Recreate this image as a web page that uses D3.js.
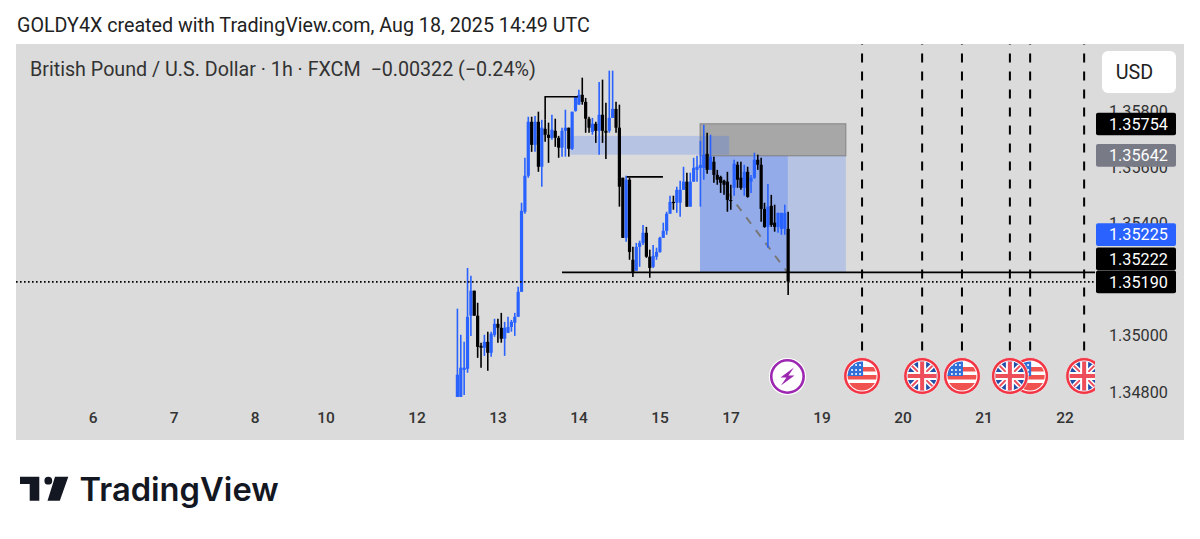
<!DOCTYPE html>
<html>
<head>
<meta charset="utf-8">
<script src="https://cdn.jsdelivr.net/npm/d3@7"></script>
<style>
  html, body { margin: 0; padding: 0; background: #fff; }
  svg { display: block; }
  text { font-family: Roboto, sans-serif; }
</style>
</head>
<body>
<svg id="chart" width="1200" height="539"></svg>
<script>
// hourly candles
const opens = [1.34779,1.34779,1.34875,1.34879,1.35068,1.35157,1.35068,1.34961,1.34954,1.34975,1.34936,1.35000,1.35039,1.35025,1.34986,1.35007,1.35028,1.35043,1.35064,1.35153,1.35438,1.35566,1.35758,1.35676,1.35758,1.35598,1.35733,1.35712,1.35701,1.35726,1.35701,1.35666,1.35726,1.35737,1.35662,1.35797,1.35819,1.35854,1.35829,1.35769,1.35722,1.35751,1.35726,1.35783,1.35726,1.35726,1.35772,1.35804,1.35737,1.35559,1.35345,1.35552,1.35267,1.35228,1.35313,1.35327,1.35363,1.35278,1.35242,1.35278,1.35295,1.35345,1.35370,1.35431,1.35473,1.35470,1.35470,1.35516,1.35545,1.35456,1.35545,1.35587,1.35594,1.35594,1.35644,1.35587,1.35616,1.35569,1.35562,1.35548,1.35545,1.35480,1.35523,1.35605,1.35559,1.35523,1.35580,1.35545,1.35559,1.35623,1.35605,1.35448,1.35384,1.35459,1.35399,1.35384,1.35377,1.35377,1.35377];
const highs = [1.35093,1.35000,1.34975,1.35238,1.35210,1.35157,1.35114,1.34972,1.35000,1.35011,1.35011,1.35057,1.35057,1.35078,1.35046,1.35064,1.35053,1.35078,1.35171,1.35470,1.35630,1.35776,1.35776,1.35779,1.35794,1.35765,1.35765,1.35755,1.35783,1.35769,1.35708,1.35737,1.35801,1.35737,1.35794,1.35847,1.35872,1.35915,1.35843,1.35776,1.35772,1.35758,1.35900,1.35908,1.35826,1.35940,1.35940,1.35829,1.35819,1.35559,1.35566,1.35559,1.35313,1.35327,1.35335,1.35391,1.35384,1.35303,1.35320,1.35310,1.35349,1.35399,1.35438,1.35495,1.35495,1.35527,1.35548,1.35598,1.35577,1.35577,1.35630,1.35637,1.35690,1.35747,1.35719,1.35712,1.35634,1.35587,1.35566,1.35552,1.35580,1.35534,1.35623,1.35616,1.35616,1.35605,1.35598,1.35569,1.35648,1.35641,1.35630,1.35470,1.35537,1.35498,1.35463,1.35434,1.35434,1.35463,1.35438];
const lows = [1.34779,1.34779,1.34786,1.34865,1.34996,1.35068,1.34918,1.34883,1.34925,1.34872,1.34922,1.34993,1.34972,1.34972,1.34925,1.35007,1.35011,1.34996,1.35064,1.35153,1.35431,1.35559,1.35651,1.35651,1.35580,1.35527,1.35687,1.35612,1.35694,1.35669,1.35630,1.35634,1.35634,1.35634,1.35658,1.35794,1.35819,1.35819,1.35719,1.35719,1.35712,1.35683,1.35641,1.35683,1.35626,1.35719,1.35772,1.35719,1.35456,1.35345,1.35331,1.35267,1.35206,1.35228,1.35242,1.35320,1.35274,1.35203,1.35238,1.35267,1.35292,1.35345,1.35356,1.35431,1.35445,1.35434,1.35420,1.35516,1.35456,1.35456,1.35545,1.35545,1.35456,1.35552,1.35573,1.35587,1.35541,1.35534,1.35505,1.35498,1.35438,1.35445,1.35495,1.35523,1.35516,1.35495,1.35488,1.35505,1.35555,1.35587,1.35402,1.35381,1.35310,1.35384,1.35367,1.35363,1.35356,1.35356,1.35142];
const closes = [1.34858,1.34883,1.34883,1.35064,1.35157,1.35068,1.34957,1.34954,1.34975,1.34936,1.35004,1.35039,1.35025,1.34986,1.35025,1.35028,1.35046,1.35064,1.35153,1.35441,1.35566,1.35758,1.35676,1.35758,1.35598,1.35737,1.35712,1.35701,1.35730,1.35701,1.35666,1.35726,1.35737,1.35662,1.35794,1.35847,1.35854,1.35829,1.35769,1.35737,1.35751,1.35726,1.35783,1.35726,1.35719,1.35772,1.35804,1.35737,1.35527,1.35345,1.35552,1.35295,1.35224,1.35313,1.35327,1.35363,1.35278,1.35238,1.35281,1.35295,1.35345,1.35370,1.35431,1.35473,1.35470,1.35516,1.35516,1.35545,1.35456,1.35545,1.35594,1.35598,1.35605,1.35641,1.35587,1.35634,1.35569,1.35552,1.35541,1.35534,1.35480,1.35477,1.35609,1.35552,1.35523,1.35580,1.35491,1.35559,1.35623,1.35605,1.35448,1.35384,1.35456,1.35391,1.35384,1.35434,1.35434,1.35434,1.35190];

const dayBars = [-108,-84,-60,-39,-12,12,36,60,81,108,132,156,180];
const dayLabels = ['6','7','8','10','12','13','14','15','17','19','20','21','22'];
const priceTicks = [1.348,1.35,1.354,1.356,1.358];

// price tags on the right edge
const tagPrices = [1.35754,1.35642,1.35225,1.35222,1.35190];
const tagFills = ['#000','#787b86','#2962ff','#000','#000'];
const tagNudge = [1,1,-37,-13.5,0.5];

// economic events
const eventBars = [119.9,137.7,149.5,163.7,169.7,185.7];
const eventFlags = ['us','uk','us','uk','us','uk'];

// drawings on the chart: [bar from, bar to, price high, price low]
const bandZone = [33.4,80.5,1.35708,1.35641];
const stopZone = [71.9,115.1,1.35751,1.35637];
const targetZone = [71.9,115.1,1.35637,1.35224];
const filledZone = [71.9,97.9,1.35637,1.35224];
const bracketHigh = [[26,1.35765],[26,1.35847],[35.7,1.35847]];
const bracketLow = [[50.2,1.35562],[60.9,1.35562]];
const dropLine = [[79.9,1.35509],[97.7,1.35224]];
const supportPrice = 1.35222;
const supportFromBar = 31;
const lastPrice = 1.3519;

const BLUE = '#2962ff';
const svg = d3.select('#chart');
const paneRight = 1095;

const x = d3.scaleLinear().domain([0, 98]).range([457.4, 788.15]);
const y = d3.scaleLinear().domain([1.348, 1.358]).range([391, 110]);
const line = d3.line().x(d => x(d[0])).y(d => y(d[1]));

svg.append('text').attr('x', 17).attr('y', 32).attr('font-size', 19.7).attr('fill', '#222')
  .text('GOLDY4X created with TradingView.com, Aug 18, 2025 14:49 UTC');

svg.append('rect').attr('x', 16).attr('y', 44).attr('width', 1168).attr('height', 396).attr('fill', '#dbdbdb');

let defs = svg.append('defs');
defs.append('clipPath').attr('id', 'pane').append('rect')
  .attr('x', 16).attr('y', 44).attr('width', paneRight - 16).attr('height', 396);
defs.append('clipPath').attr('id', 'flagClip').append('circle').attr('r', 14.5);

svg.append('text').attr('x', 30).attr('y', 76).attr('font-size', 19.7).attr('fill', '#333')
  .attr('xml:space', 'preserve')
  .text('British Pound / U.S. Dollar · 1h · FXCM  −0.00322 (−0.24%)');

const pane = svg.append('g').attr('clip-path', 'url(#pane)');

function zone(z, fill) {
  return pane.append('rect')
    .attr('x', x(z[0])).attr('width', x(z[1]) - x(z[0]))
    .attr('y', y(z[2])).attr('height', y(z[3]) - y(z[2]))
    .attr('fill', fill);
}

zone(targetZone, 'rgba(41,98,255,0.2)');
zone(filledZone, 'rgba(41,98,255,0.25)');
zone(stopZone, 'rgba(90,90,90,0.4)').attr('stroke', 'rgba(110,110,110,0.7)').attr('stroke-width', 1);
zone(bandZone, 'rgba(41,98,255,0.2)');

pane.append('path').attr('d', line(dropLine)).attr('fill', 'none')
  .attr('stroke', '#777').attr('stroke-width', 2).attr('stroke-dasharray', '8,8');

// candles
const bars = d3.range(opens.length);
const colorOf = i => closes[i] >= opens[i] ? BLUE : '#000';

pane.append('g').selectAll('line').data(bars).join('line')
  .attr('x1', i => x(i)).attr('x2', i => x(i))
  .attr('y1', i => y(highs[i])).attr('y2', i => y(lows[i]))
  .attr('stroke', colorOf).attr('stroke-width', 1.6);

pane.append('g').selectAll('rect').data(bars).join('rect')
  .attr('x', i => x(i) - 1.6).attr('width', 3.2)
  .attr('y', i => y(Math.max(opens[i], closes[i])))
  .attr('height', i => Math.max(1.2, Math.abs(y(opens[i]) - y(closes[i]))))
  .attr('fill', colorOf);

pane.append('path').attr('d', line(bracketHigh)).attr('fill', 'none').attr('stroke', '#000').attr('stroke-width', 1.6);
pane.append('path').attr('d', line(bracketLow)).attr('fill', 'none').attr('stroke', '#000').attr('stroke-width', 1.6);

pane.append('line').attr('x1', x(supportFromBar)).attr('x2', paneRight)
  .attr('y1', y(supportPrice)).attr('y2', y(supportPrice))
  .attr('stroke', '#000').attr('stroke-width', 1.6);

pane.append('line').attr('x1', 16).attr('x2', paneRight)
  .attr('y1', y(lastPrice) + 0.5).attr('y2', y(lastPrice) + 0.5)
  .attr('stroke', '#000').attr('stroke-width', 1.6).attr('stroke-dasharray', '1.6,2.4');

// event lines
pane.append('g').selectAll('line').data(eventBars).join('line')
  .attr('x1', d => x(d)).attr('x2', d => x(d))
  .attr('y1', 35.5).attr('y2', 358)
  .attr('stroke', '#000').attr('stroke-width', 2).attr('stroke-dasharray', '9,9');

function drawUS(g) {
  g.append('rect').attr('x', -15).attr('y', -15).attr('width', 30).attr('height', 30).attr('fill', '#fff');
  [-9, -1, 7].forEach(v => {
    g.append('rect').attr('x', -15).attr('y', v).attr('width', 30).attr('height', 4.5).attr('fill', '#f0534f');
  });
  g.append('rect').attr('x', -15).attr('y', -15).attr('width', 16).attr('height', 15).attr('fill', '#2f6fd8');
  [-11, -6, -2].forEach(cy => {
    [-10, -6, -2].forEach(cx => {
      g.append('circle').attr('cx', cx).attr('cy', cy).attr('r', 1).attr('fill', '#fff');
    });
  });
  g.append('rect').attr('x', -15).attr('y', 11).attr('width', 30).attr('height', 5).attr('fill', '#f0534f');
}

function drawUK(g) {
  g.append('rect').attr('x', -15).attr('y', -15).attr('width', 30).attr('height', 30).attr('fill', '#1f4fa8');
  [[-15,-15,15,15],[-15,15,15,-15]].forEach(p => {
    g.append('line').attr('x1', p[0]).attr('y1', p[1]).attr('x2', p[2]).attr('y2', p[3]).attr('stroke', '#fff').attr('stroke-width', 5);
    g.append('line').attr('x1', p[0]).attr('y1', p[1]).attr('x2', p[2]).attr('y2', p[3]).attr('stroke', '#ee4d5a').attr('stroke-width', 1.8);
  });
  g.append('rect').attr('x', -15).attr('y', -4).attr('width', 30).attr('height', 8).attr('fill', '#fff');
  g.append('rect').attr('x', -4).attr('y', -15).attr('width', 8).attr('height', 30).attr('fill', '#fff');
  g.append('rect').attr('x', -15).attr('y', -2).attr('width', 30).attr('height', 4).attr('fill', '#ee4d5a');
  g.append('rect').attr('x', -2).attr('y', -15).attr('width', 4).attr('height', 30).attr('fill', '#ee4d5a');
}

// drawn from the right so the earlier flag sits on top
d3.range(eventBars.length - 1, -1, -1).forEach(i => {
  let g = pane.append('g').attr('transform', `translate(${x(eventBars[i])},376)`);
  g.append('circle').attr('r', 18.5).attr('fill', '#f23645').attr('stroke', '#e8e8e8').attr('stroke-width', 0.8);
  g.append('circle').attr('r', 15.5).attr('fill', '#fff');
  let inner = g.append('g').attr('clip-path', 'url(#flagClip)');
  if (eventFlags[i] === 'us') drawUS(inner); else drawUK(inner);
});

// lightning marker under the last bar
let bolt = pane.append('g').attr('transform', `translate(${x(98) - 0.7},376.5)`);
bolt.append('circle').attr('r', 18.6).attr('fill', '#fff');
bolt.append('circle').attr('r', 16.2).attr('fill', '#fff').attr('stroke', '#9c27b0').attr('stroke-width', 2.6);
bolt.append('path').attr('d', 'M6.5,-9 L-7,1 L-1,1 L-6.5,9 L7,-1 L1,-1 Z').attr('fill', '#9c27b0');

// axes
const xAxis = d3.axisBottom(x).tickValues(dayBars).tickSize(0).tickPadding(0)
  .tickFormat((d, i) => dayLabels[i]);
const xg = svg.append('g').attr('transform', 'translate(-0.3,412)').call(xAxis);
xg.select('.domain').remove();
xg.selectAll('text').style('font-family', 'Roboto').attr('font-size', 15.5).attr('font-weight', 500).attr('fill', '#333');

const yAxis = d3.axisRight(y).tickValues(priceTicks).tickSize(0).tickPadding(0)
  .tickFormat(d => d.toFixed(5));
const yg = svg.append('g').attr('transform', 'translate(1109,1)').call(yAxis);
yg.select('.domain').remove();
yg.selectAll('text').style('font-family', 'Roboto').attr('font-size', 16.2).attr('fill', '#333');

// price tags
let tags = svg.append('g').selectAll('g').data(tagPrices).join('g')
  .attr('transform', (d, i) => `translate(1096,${y(d) + tagNudge[i]})`);
tags.append('rect').attr('y', -11.3).attr('width', 80).attr('height', 22.6).attr('rx', 2)
  .attr('fill', (d, i) => tagFills[i]);
tags.append('text').attr('x', 13).attr('dy', '0.36em').attr('font-size', 16.2).attr('fill', '#fff')
  .text(d => d.toFixed(5));

// currency button
svg.append('rect').attr('x', 1102).attr('y', 51).attr('width', 74).attr('height', 42).attr('rx', 6).attr('fill', '#fff');
svg.append('text').attr('x', 1134.5).attr('y', 78.5).attr('text-anchor', 'middle').attr('font-size', 19.7).attr('fill', '#222').text('USD');

// logo
let logo = svg.append('g').attr('fill', '#131722');
logo.append('path').attr('d', 'M20,476.7 H39.3 V500.7 H29.7 V484 H20 Z');
logo.append('circle').attr('cx', 48.3).attr('cy', 480.7).attr('r', 3.9);
logo.append('path').attr('d', 'M55,476.7 H68.3 L59.8,500.7 H47.5 Z');
logo.append('text').attr('x', 79.5).attr('y', 500.7).attr('font-size', 32.7).attr('font-weight', 600)
  .style('font-family', 'Inter, Roboto, sans-serif').text('TradingView');
</script>
</body>
</html>
